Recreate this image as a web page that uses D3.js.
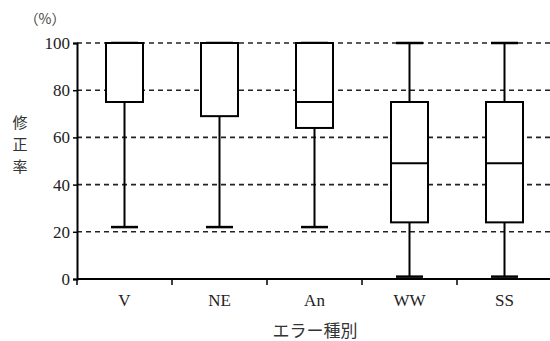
<!DOCTYPE html>
<html>
<head>
<meta charset="utf-8">
<script src="https://cdn.jsdelivr.net/npm/d3@7"></script>
<style>
  body { margin: 0; background: #fff; }
  svg { display: block; }
</style>
</head>
<body>
<script>
// Data
const categories = ['V', 'NE', 'An', 'WW', 'SS'];
const whiskerMin = [22, 22, 22, 1, 1];
const q1 = [75, 69, 64, 24, 24];
const median = [100, 100, 75, 49, 49];
const q3 = [100, 100, 100, 75, 75];
const whiskerMax = [100, 100, 100, 100, 100];
const yTicks = [0, 20, 40, 60, 80, 100];

const width = 550, height = 341;
const margin = { top: 43, right: 0, bottom: 61, left: 77 };

const svg = d3.select('body')
    .append('svg')
    .attr('width', width)
    .attr('height', height);

// Scales
const x = d3.scaleBand()
    .domain(categories)
    .range([margin.left, margin.left + 475])
    .padding(0);

const y = d3.scaleLinear()
    .domain([0, 100])
    .range([height - margin.bottom - 1, margin.top]);

const serif = '"Liberation Serif", "DejaVu Serif", serif';
const jp = '"Noto Sans CJK JP", sans-serif';

// Dashed grid lines
svg.append('g')
    .selectAll('line')
    .data(yTicks.filter(d => d > 0))
    .enter()
    .append('line')
    .attr('x1', margin.left)
    .attr('x2', width)
    .attr('y1', d => y(d))
    .attr('y2', d => y(d))
    .attr('stroke', '#222')
    .attr('stroke-width', 1.6)
    .attr('stroke-dasharray', '5,4');

// Boxes
const boxW = 37, capW = 27;
const g = svg.append('g');
categories.forEach((c, i) => {
    const cx = x(c) + x.bandwidth() / 2;
    // whisker
    g.append('line')
        .attr('x1', cx).attr('x2', cx)
        .attr('y1', y(whiskerMin[i])).attr('y2', y(whiskerMax[i]))
        .attr('stroke', '#000').attr('stroke-width', 2);
    // caps
    [whiskerMin[i], whiskerMax[i]].forEach(v => {
        g.append('line')
            .attr('x1', cx - capW / 2).attr('x2', cx + capW / 2)
            .attr('y1', y(v)).attr('y2', y(v))
            .attr('stroke', '#000').attr('stroke-width', 2.5);
    });
    // box
    g.append('rect')
        .attr('x', cx - boxW / 2)
        .attr('y', y(q3[i]))
        .attr('width', boxW)
        .attr('height', y(q1[i]) - y(q3[i]))
        .attr('fill', '#fff')
        .attr('stroke', '#000')
        .attr('stroke-width', 2);
    // median
    g.append('line')
        .attr('x1', cx - boxW / 2).attr('x2', cx + boxW / 2)
        .attr('y1', y(median[i])).attr('y2', y(median[i]))
        .attr('stroke', '#000').attr('stroke-width', 2);
});

// Y axis
const yAxis = svg.append('g')
    .attr('transform', `translate(${margin.left},0)`)
    .call(d3.axisLeft(y).tickValues(yTicks).tickSize(4).tickPadding(3));
yAxis.select('.domain').attr('stroke-width', 2);
yAxis.selectAll('.tick line').attr('stroke-width', 1.5);
yAxis.selectAll('text')
    .style('font-family', serif)
    .style('font-size', '17px')
    .attr('fill', '#222');

// X axis
const xAxis = svg.append('g')
    .attr('transform', `translate(0,${y(0)})`)
    .call(d3.axisBottom(x).tickSize(0).tickPadding(15));
xAxis.select('.domain').attr('stroke-width', 2).attr('d', `M${margin.left},0H${width}`);
xAxis.selectAll('text')
    .style('font-family', serif)
    .style('font-size', '17px')
    .attr('fill', '#222');

// x boundary ticks
svg.append('g')
    .selectAll('line')
    .data(categories)
    .enter()
    .append('line')
    .attr('x1', d => x(d))
    .attr('x2', d => x(d))
    .attr('y1', y(0))
    .attr('y2', y(0) + 6)
    .attr('stroke', '#000')
    .attr('stroke-width', 1.5);

// Titles
svg.append('text')
    .attr('x', 45)
    .attr('y', 24)
    .attr('text-anchor', 'middle')
    .style('font-family', jp)
    .style('font-size', '14px')
    .attr('fill', '#444')
    .text('（%）');

const yTitle = svg.append('text')
    .attr('x', 20)
    .attr('y', 128)
    .attr('text-anchor', 'middle')
    .style('font-family', jp)
    .style('font-size', '15px')
    .attr('fill', '#333');
['修', '正', '率'].forEach((ch, i) => {
    yTitle.append('tspan')
        .attr('x', 20)
        .attr('dy', i === 0 ? 0 : 22)
        .text(ch);
});

svg.append('text')
    .attr('x', 315)
    .attr('y', 337)
    .attr('text-anchor', 'middle')
    .style('font-family', jp)
    .style('font-size', '17px')
    .attr('fill', '#333')
    .text('エラー種別');
</script>
</body>
</html>
